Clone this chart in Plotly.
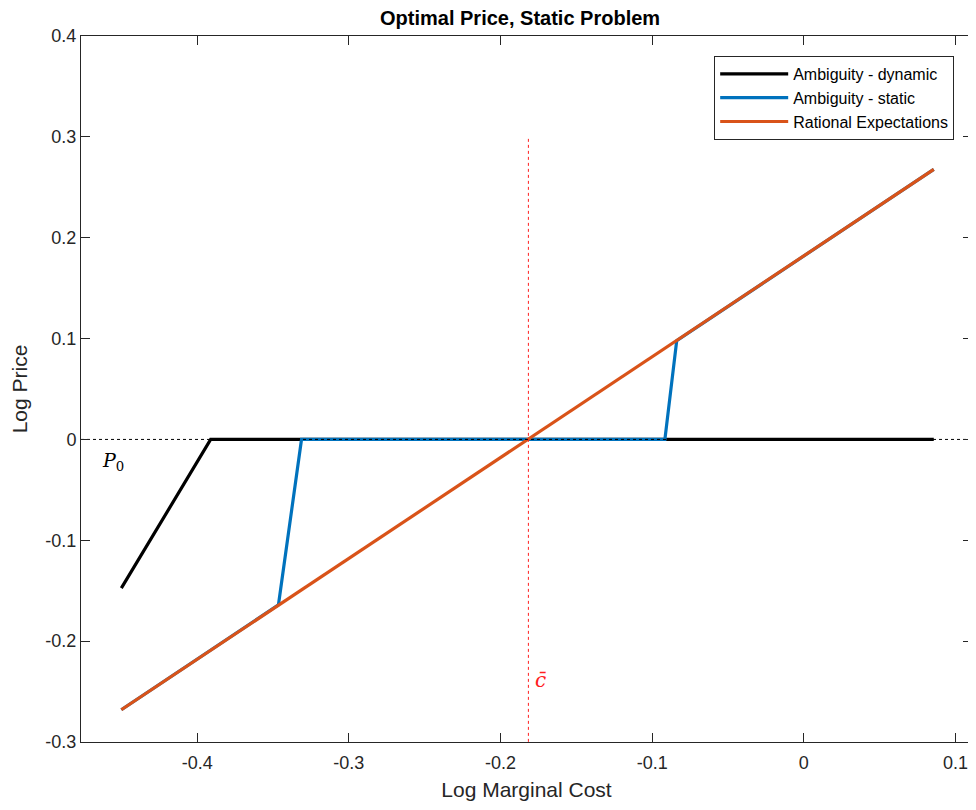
import plotly.graph_objects as go

# Data
re_x = [-0.45, 0.0857]
re_y = [-0.268, 0.2677]

dyn_x = [-0.45, -0.3911, 0.0857]
dyn_y = [-0.1475, 0.0, 0.0]

stat_x = [-0.45, -0.3464, -0.3312, -0.0916, -0.0838, 0.0857]
stat_y = [-0.268, -0.164, 0.0, 0.0, 0.098, 0.2677]

c_bar = -0.1816
p0 = 0.0
x_range = [-0.4766, 0.1109]
y_range = [-0.3, 0.4]
x_ticks = [-0.4, -0.3, -0.2, -0.1, 0, 0.1]
x_tick_text = ["-0.4", "-0.3", "-0.2", "-0.1", "0", "0.1"]
y_ticks = [-0.3, -0.2, -0.1, 0, 0.1, 0.2, 0.3, 0.4]
y_tick_text = ["-0.3", "-0.2", "-0.1", "0", "0.1", "0.2", "0.3", "0.4"]

FONT = "Liberation Sans, Arial, sans-serif"
AX = "#262626"

fig = go.Figure()
fig.add_trace(go.Scatter(x=dyn_x, y=dyn_y, mode="lines", name="Ambiguity - dynamic",
                         line=dict(color="black", width=3.2)))
fig.add_trace(go.Scatter(x=stat_x, y=stat_y, mode="lines", name="Ambiguity - static",
                         line=dict(color="#0072BD", width=3.2)))
fig.add_trace(go.Scatter(x=re_x, y=re_y, mode="lines", name="Rational Expectations",
                         line=dict(color="#D95319", width=3.2)))
# reference lines
fig.add_trace(go.Scatter(x=x_range, y=[p0, p0], mode="lines", showlegend=False,
                         line=dict(color="black", width=1, dash="dot"), hoverinfo="skip"))
fig.add_trace(go.Scatter(x=[c_bar, c_bar], y=[0.298, -0.3], mode="lines", showlegend=False,
                         line=dict(color="#FF2020", width=1, dash="dot"), hoverinfo="skip"))

fig.add_annotation(x=-0.4557, y=-0.022, text="<i>P</i><sub>0</sub>", showarrow=False,
                   font=dict(family="DejaVu Serif, Liberation Serif, serif", size=19, color="black"))
fig.add_annotation(x=-0.1738, y=-0.2385, text="<i>c̄</i>", showarrow=False,
                   font=dict(family="DejaVu Serif, Liberation Serif, serif", size=20, color="#FF2020"))

axis_common = dict(showline=True, linecolor=AX, linewidth=1, mirror="ticks",
                   ticks="inside", ticklen=9, tickcolor=AX, showgrid=False, zeroline=False,
                   automargin=False,
                   tickfont=dict(family=FONT, size=18, color=AX))

fig.update_xaxes(range=x_range, tickvals=x_ticks, ticktext=x_tick_text, ticklabelstandoff=4,
                 title=dict(text="Log Marginal Cost", font=dict(family=FONT, size=21, color=AX), standoff=10),
                 **axis_common)
fig.update_yaxes(range=y_range, tickvals=y_ticks, ticktext=y_tick_text,
                 title=dict(text="Log Price", font=dict(family=FONT, size=21, color=AX), standoff=12),
                 **axis_common)

fig.update_layout(
    width=968, height=802,
    margin=dict(l=73, r=4, t=28, b=68),
    plot_bgcolor="white", paper_bgcolor="white",
    title=dict(text="<b>Optimal Price, Static Problem</b>", x=0.529, xanchor="center",
               y=0.9875, yanchor="middle", font=dict(family=FONT, size=20, color="black")),
    legend=dict(x=0.980, y=0.9717, xanchor="right", yanchor="top",
                bgcolor="white", bordercolor=AX, borderwidth=1,
                font=dict(family=FONT, size=16, color="black"),
                tracegroupgap=0, itemwidth=68),
    showlegend=True,
)

fig.write_html("out.html")
